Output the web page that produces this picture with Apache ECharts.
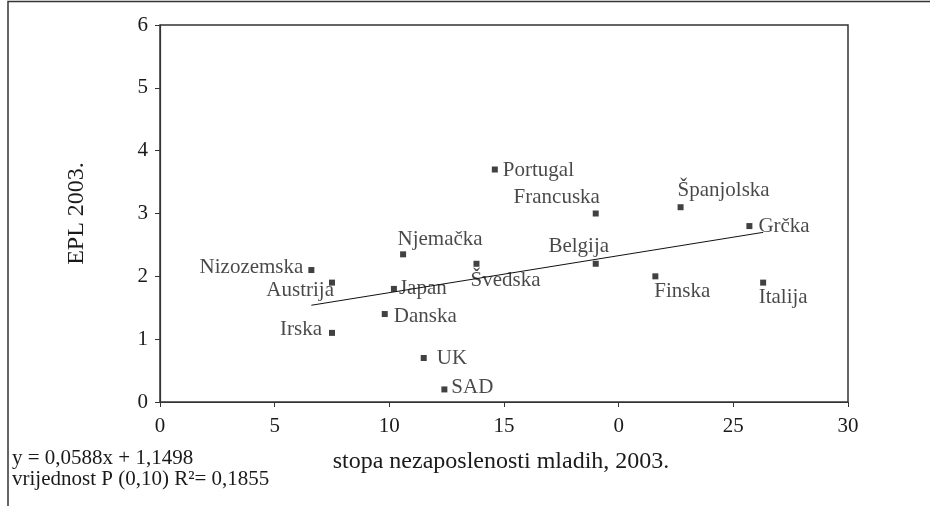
<!DOCTYPE html>
<html>
<head>
<meta charset="utf-8">
<title>EPL 2003.</title>
<script src="https://cdn.jsdelivr.net/npm/echarts@6/dist/echarts.min.js"></script>
<style>
  html, body { margin: 0; padding: 0; background: #fff; }
  #chart { width: 930px; height: 506px; }
</style>
</head>
<body>
<div id="chart"></div>
<script>
// podaci sa slike
var countries = ['Portugal', 'Francuska', 'Španjolska', 'Grčka', 'Belgija', 'Finska', 'Italija',
  'Njemačka', 'Švedska', 'Nizozemska', 'Austrija', 'Japan', 'Danska', 'Irska', 'UK', 'SAD'];
var youthUnemployment = [14.6, 19.0, 22.7, 25.7, 19.0, 21.6, 26.3,
  10.6, 13.8, 6.6, 7.5, 10.2, 9.8, 7.5, 11.5, 12.4];
var epl = [3.7, 3.0, 3.1, 2.8, 2.2, 2.0, 1.9,
  2.35, 2.2, 2.1, 1.9, 1.8, 1.4, 1.1, 0.7, 0.2];
// linija trenda (krajnje tocke)
var trendX = [6.6, 26.3];
var trendY = [1.54, 2.70];
var xTickLabels = ['0', '5', '10', '15', '0', '25', '30'];
var yTickLabels = ['0', '1', '2', '3', '4', '5', '6'];
var equationText = 'y = 0,0588x + 1,1498\nvrijednost P (0,10) R²= 0,1855';

var FONT = '"Liberation Serif", "Times New Roman", serif';

// gdje stoji naziv zemlje u odnosu na tocku: [align, dx, dy]
var labelPlace = {
  'Portugal': ['left', 8, 1],
  'Francuska': ['center', -39, -16],
  'Španjolska': ['center', 43, -17],
  'Grčka': ['left', 9, 0],
  'Belgija': ['center', -17, -17],
  'Finska': ['center', 27, 15],
  'Italija': ['center', 20, 15],
  'Njemačka': ['center', 37, -15],
  'Švedska': ['center', 29, 17],
  'Nizozemska': ['right', -8, -3],
  'Austrija': ['right', 2, 8],
  'Japan': ['left', 5, 0],
  'Danska': ['left', 9, 2],
  'Irska': ['right', -10, -3],
  'UK': ['left', 13, 0],
  'SAD': ['left', 7, -2]
};

var points = countries.map(function (name, i) {
  var p = labelPlace[name];
  return {
    name: name,
    value: [youthUnemployment[i], epl[i]],
    label: {
      show: true,
      position: 'inside',
      formatter: name,
      align: p[0],
      verticalAlign: 'middle',
      offset: [p[1], p[2]],
      color: '#1a1a1a',
      fontFamily: FONT,
      fontSize: 21
    }
  };
});

var trendData = trendX.map(function (x, i) { return [x, trendY[i]]; });

var myChart = echarts.init(document.getElementById('chart'));
var option = {
  backgroundColor: '#fff',
  animation: false,
  grid: {
    left: 160, right: 82, top: 25, bottom: 104,
    show: true, borderColor: '#333', borderWidth: 1.5
  },
  xAxis: {
    type: 'value',
    min: 0, max: 30, interval: 5,
    name: 'stopa nezaposlenosti mladih, 2003.',
    nameLocation: 'middle',
    nameGap: 48,
    nameTextStyle: { fontFamily: FONT, fontSize: 24, color: '#1a1a1a', padding: [0, 6, 0, 0] },
    axisLine: { show: true, lineStyle: { color: '#333', width: 1.2 } },
    axisTick: { show: true, length: 5, lineStyle: { color: '#333' } },
    splitLine: { show: false },
    axisLabel: {
      margin: 14,
      fontFamily: FONT, fontSize: 21, color: '#1a1a1a',
      formatter: function (v) { return xTickLabels[Math.round(v / 5)]; }
    }
  },
  yAxis: {
    type: 'value',
    min: 0, max: 6, interval: 1,
    name: 'EPL 2003.',
    nameLocation: 'middle',
    nameRotate: 90,
    nameGap: 71,
    nameTextStyle: { fontFamily: FONT, fontSize: 24, color: '#1a1a1a' },
    axisLine: { show: true, lineStyle: { color: '#333', width: 1.2 } },
    axisTick: { show: true, length: 5, lineStyle: { color: '#333' } },
    splitLine: { show: false },
    axisLabel: {
      margin: 12,
      fontFamily: FONT, fontSize: 21, color: '#1a1a1a',
      formatter: function (v) { return yTickLabels[Math.round(v)]; }
    }
  },
  graphic: [
    {
      type: 'polyline',
      shape: { points: [[8, 506], [8, 1.5], [930, 1.5]] },
      style: { stroke: '#333', lineWidth: 1.5, fill: null }
    },
    {
      type: 'text',
      left: 12, top: 448,
      style: {
        text: equationText,
        font: '21px ' + FONT,
        lineHeight: 21,
        fill: '#1a1a1a'
      }
    }
  ],
  series: [
    {
      type: 'line',
      data: trendData,
      symbol: 'none',
      lineStyle: { color: '#111', width: 1 },
      silent: true,
      z: 1
    },
    {
      type: 'scatter',
      symbol: 'rect',
      symbolSize: 6,
      itemStyle: { color: '#111' },
      data: points,
      z: 3
    }
  ]
};
myChart.setOption(option);
</script>
</body>
</html>
